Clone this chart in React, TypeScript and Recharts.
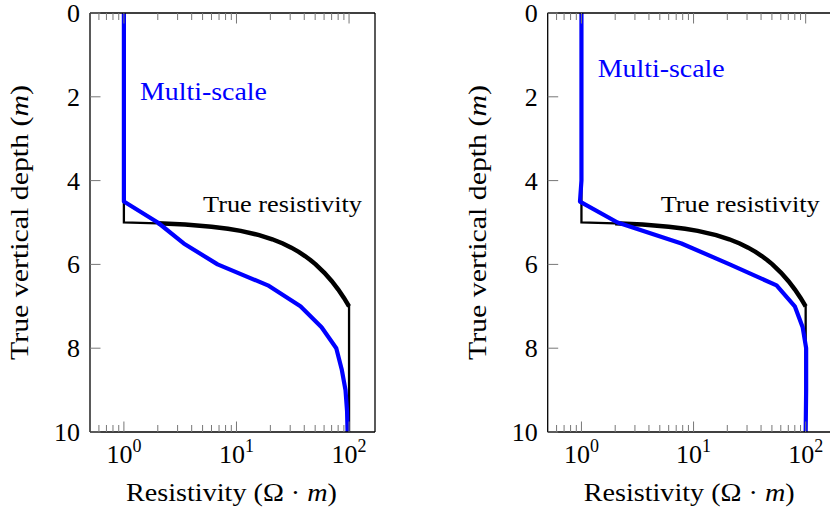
import { Line, LineChart, XAxis, YAxis } from "recharts";

// true resistivity profile (same in both panels)
const trueDepth = [0, 5, 5.02, 5.05, 5.1, 5.15, 5.2, 5.3, 5.4, 5.5, 5.6, 5.7, 5.8, 5.9, 6, 6.2, 6.4, 6.6, 6.8, 7, 10];
const trueRes = [1, 1, 2, 3.5, 6, 8.4, 10.9, 15.9, 20.8, 25.8, 30.7, 35.7, 40.6, 45.6, 50.5, 60.4, 70.3, 80.2, 90.1, 100, 100];

// multi-scale inversion, left panel
const leftDepth = [0, 4.5, 5, 5.5, 6, 6.5, 7, 7.5, 8, 8.5, 9, 9.5, 10];
const leftRes = [1, 1, 2, 3.4, 6.8, 19, 37, 57, 77, 86, 93, 96, 97];

// multi-scale inversion, right panel
const rightDepth = [0, 4, 4.5, 5, 5.5, 6, 6.5, 7, 7.5, 8, 9, 10];
const rightRes = [1, 1, 0.97, 2.1, 7.8, 21, 55, 80, 94, 101, 101, 100];

const majorTicks = [1, 10, 100];
const xTicks = [0.6, 0.7, 0.8, 0.9, 1, 2, 3, 4, 5, 6, 7, 8, 9, 10, 20, 30, 40, 50, 60, 70, 80, 90, 100];
const yTicks = [0, 2, 4, 6, 8, 10];

const FONT = "'Liberation Serif', serif";
const TICK_COLOR = "#777";
const txt = (size: number) => ({ fontFamily: FONT, fontSize: size });

const toRows = (depth: number[], res: number[]) => depth.map((d, i) => ({ d, r: res[i] }));

const trueProfile = toRows(trueDepth, trueRes);
const trueCurve = trueProfile.slice(2, 20);

const BottomTick = (props: any) => {
    const { x, y, payload } = props;
    const major = majorTicks.includes(payload.value);
    const exp = Math.round(Math.log10(payload.value));
    return (
        <g>
            <line x1={x} x2={x} y1={y} y2={y - (major ? 10.5 : 7)} stroke={TICK_COLOR} />
            {major && (
                <text x={x} y={y + 31} textAnchor="middle" style={txt(26)} fill="#000">
                    10<tspan dy={-11} style={{ fontSize: 18 }}>{exp}</tspan>
                </text>
            )}
        </g>
    );
};

const TopTick = (props: any) => {
    const { x, y, payload } = props;
    const major = majorTicks.includes(payload.value);
    return <line x1={x} x2={x} y1={y} y2={y + (major ? 10.5 : 7)} stroke={TICK_COLOR} />;
};

const LeftTick = (props: any) => {
    const { x, y, payload } = props;
    return (
        <g>
            <line x1={x} x2={x + 10.5} y1={y} y2={y} stroke={TICK_COLOR} />
            <text x={x - 10} y={y + 9} textAnchor="end" style={txt(26)} fill="#000">
                {payload.value}
            </text>
        </g>
    );
};

const RightTick = (props: any) => {
    const { x, y } = props;
    return <line x1={x} x2={x - 10.5} y1={y} y2={y} stroke={TICK_COLOR} />;
};

interface PanelProps {
    blue: { d: number; r: number }[];
    left: number;
    width: number;
    marginLeft: number;
    marginRight: number;
    multiY: number;
}

const axisLine = { stroke: "#000", strokeWidth: 1.3 };

const Panel = ({ blue, left, width, marginLeft, marginRight, multiY }: PanelProps) => {
    const L = marginLeft;
    return (
        <div style={{ position: "absolute", left, top: 0 }}>
            <LineChart
                width={width}
                height={510}
                margin={{ top: 12, right: marginRight - 1, bottom: 77, left: marginLeft - 1 }}
                style={{ fontFamily: FONT }}
            >
                <XAxis
                    xAxisId="bottom"
                    dataKey="r"
                    type="number"
                    scale="log"
                    domain={[0.5, 170]}
                    allowDataOverflow
                    ticks={xTicks}
                    interval={0}
                    height={1}
                    tickSize={0}
                    tickMargin={0}
                    tickLine={false}
                    axisLine={axisLine}
                    tick={BottomTick}
                />
                <XAxis
                    xAxisId="top"
                    orientation="top"
                    dataKey="r"
                    type="number"
                    scale="log"
                    domain={[0.5, 170]}
                    allowDataOverflow
                    ticks={xTicks}
                    interval={0}
                    height={1}
                    tickSize={0}
                    tickMargin={0}
                    tickLine={false}
                    axisLine={axisLine}
                    tick={TopTick}
                />
                <YAxis
                    yAxisId="left"
                    type="number"
                    domain={[0, 10]}
                    reversed
                    ticks={yTicks}
                    interval={0}
                    width={1}
                    tickSize={0}
                    tickMargin={0}
                    tickLine={false}
                    axisLine={axisLine}
                    tick={LeftTick}
                />
                <YAxis
                    yAxisId="right"
                    orientation="right"
                    type="number"
                    domain={[0, 10]}
                    reversed
                    ticks={yTicks}
                    interval={0}
                    width={1}
                    tickSize={0}
                    tickMargin={0}
                    tickLine={false}
                    axisLine={axisLine}
                    tick={RightTick}
                />
                <Line
                    data={trueProfile}
                    xAxisId="bottom"
                    yAxisId="left"
                    dataKey="d"
                    type="linear"
                    stroke="#000"
                    strokeWidth={2.3}
                    dot={false}
                    activeDot={false}
                    isAnimationActive={false}
                />
                <Line
                    data={trueCurve}
                    xAxisId="bottom"
                    yAxisId="left"
                    dataKey="d"
                    type="linear"
                    stroke="#000"
                    strokeWidth={4.5}
                    dot={false}
                    activeDot={false}
                    isAnimationActive={false}
                />
                <Line
                    data={blue}
                    xAxisId="bottom"
                    yAxisId="left"
                    dataKey="d"
                    type="linear"
                    stroke="#0000ff"
                    strokeWidth={4.2}
                    strokeLinejoin="round"
                    dot={false}
                    activeDot={false}
                    isAnimationActive={false}
                />
                <text
                    x={L + 50}
                    y={multiY}
                    style={txt(26)}
                    fill="#0000ff"
                    textLength={127}
                    lengthAdjust="spacingAndGlyphs"
                >
                    Multi-scale
                </text>
                <text
                    x={L + 113}
                    y={212}
                    style={txt(24)}
                    fill="#000"
                    textLength={159}
                    lengthAdjust="spacingAndGlyphs"
                >
                    True resistivity
                </text>
                <text
                    x={L + 36}
                    y={501}
                    style={txt(26)}
                    fill="#000"
                    textLength={211}
                    lengthAdjust="spacingAndGlyphs"
                >
                    Resistivity (Ω · <tspan fontStyle="italic">m</tspan>)
                </text>
                <text
                    x={L - 62}
                    y={360}
                    transform={`rotate(-90, ${L - 62}, 360)`}
                    style={txt(26)}
                    fill="#000"
                    textLength={275}
                    lengthAdjust="spacingAndGlyphs"
                >
                    True vertical depth (<tspan fontStyle="italic">m</tspan>)
                </text>
            </LineChart>
        </div>
    );
};

export default function App() {
    return (
        <div
            style={{
                position: "absolute",
                left: 0,
                top: 0,
                width: 830,
                height: 510,
                overflow: "hidden",
                background: "#fff",
            }}
        >
            <Panel blue={toRows(leftDepth, leftRes)} left={0} width={415} marginLeft={90} marginRight={40} multiY={100} />
            <Panel
                blue={toRows(rightDepth, rightRes)}
                left={415}
                width={420}
                marginLeft={132.7}
                marginRight={3.5}
                multiY={77}
            />
        </div>
    );
}
